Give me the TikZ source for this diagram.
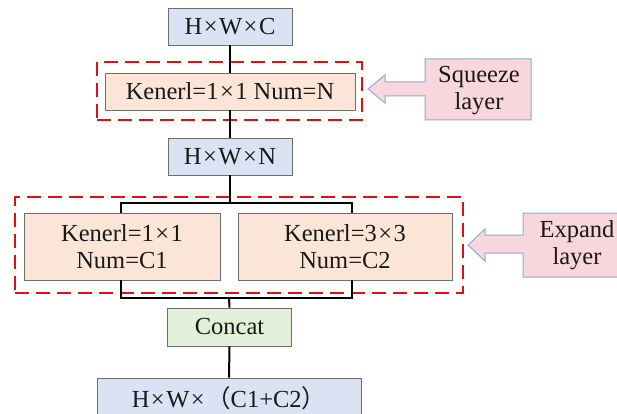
\documentclass[tikz,border=0pt]{standalone}
\usepackage{fontspec}
\setmainfont{Liberation Serif}
\newfontfamily\cjk{Noto Sans CJK SC}
\definecolor{bluefill}{HTML}{DAE3F3}
\definecolor{orangefill}{HTML}{FBE5D6}
\definecolor{greenfill}{HTML}{E2F0D9}
\definecolor{pinkfill}{HTML}{F8D6DD}
\definecolor{calloutline}{HTML}{8FAADC}
\definecolor{boxline}{HTML}{6E6E6E}
\definecolor{dashred}{HTML}{E01010}
\newcommand{\mx}{\kern1.5pt×\kern1.5pt}
\begin{document}
\begin{tikzpicture}[x=1pt,y=-1pt,
  every node/.style={font=\rmfamily\fontsize{24.5}{27}\selectfont,text=black!90},
  box/.style={draw=boxline,line width=0.9pt,inner sep=0pt,align=center},
  bluebox/.style={box,fill=bluefill},
  orangebox/.style={box,fill=orangefill},
  greenbox/.style={box,fill=greenfill},
  group/.style={draw=dashred,line width=2.2pt,dash pattern=on 14pt off 7pt,inner sep=0pt},
  conn/.style={draw=black,line width=2pt},
  callout/.style={draw=calloutline,line width=1pt,fill=pinkfill},
  callouttext/.style={align=center}
]
\clip (0,0) rectangle (617,414);
\useasboundingbox (0,0) rectangle (617,414);
\fill[white] (0,0) rectangle (617,414);

% nodes
\node[bluebox,minimum width=124pt,minimum height=37pt] (hwc) at (230,26.5) {H\mx W\mx C};
\node[orangebox,minimum width=250pt,minimum height=37pt] (sq) at (230,91.5) {Kenerl=1\mx 1 Num=N};
\node[bluebox,minimum width=124pt,minimum height=37pt] (hwn) at (230,156.5) {H\mx W\mx N};
\node[orangebox,minimum width=196pt,minimum height=67pt] (e1) at (122,246.5) {Kenerl=1\mx 1\\Num=C1};
\node[orangebox,minimum width=214pt,minimum height=67pt] (e3) at (345,246.5) {Kenerl=3\mx 3\\Num=C2};
\node[greenbox,minimum width=124pt,minimum height=38pt] (cc) at (229.5,327) {Concat};
\node[bluebox,minimum width=264pt,minimum height=46pt,text height=17pt,text depth=5pt] (out) at (229,401) {H\mx W\mx{\cjk （}C1+C2{\cjk ）}};

% dashed groups
\node[group,minimum width=265pt,minimum height=58pt] (sqg) at (229.5,91) {};
\node[group,minimum width=448pt,minimum height=96pt] (expg) at (239,245) {};

% connectors
\coordinate (tb) at (230,203);
\coordinate (tl) at (121,203);
\coordinate (tr) at (352,203);
\coordinate (bb) at (229,298);
\coordinate (bl) at (121,298);
\coordinate (br) at (352,298);
\draw[conn] (hwc.south) -- (sq.north);
\draw[conn] (sq.south) -- (hwn.north);
\draw[conn] (hwn.south) -- (tb);
\draw[conn] (tl |- e1.north) -- (tl) -- (tr) -- (tr |- e3.north);
\draw[conn] (bl |- e1.south) -- (bl) -- (br) -- (br |- e3.south);
\draw[conn] (bb) -- (cc.north);
\draw[conn] (cc.south) -- (out.north);

% callouts
\draw[callout] (425,59) -- (531,59) -- (531,120) -- (425,120) -- (425,96) -- (385,96) -- (385,103) -- (368,89) -- (385,75) -- (385,82) -- (425,82) -- cycle;
\node[callouttext] (sqt) at (479,91) {Squeeze\\layer};
\draw[callout] (523,213) -- (640,213) -- (640,277) -- (523,277) -- (523,253) -- (485,253) -- (485,261) -- (468,245) -- (485,229) -- (485,235) -- (523,235) -- cycle;
\node[callouttext] (ext) at (577,245) {Expand\\layer};
\end{tikzpicture}
\end{document}
